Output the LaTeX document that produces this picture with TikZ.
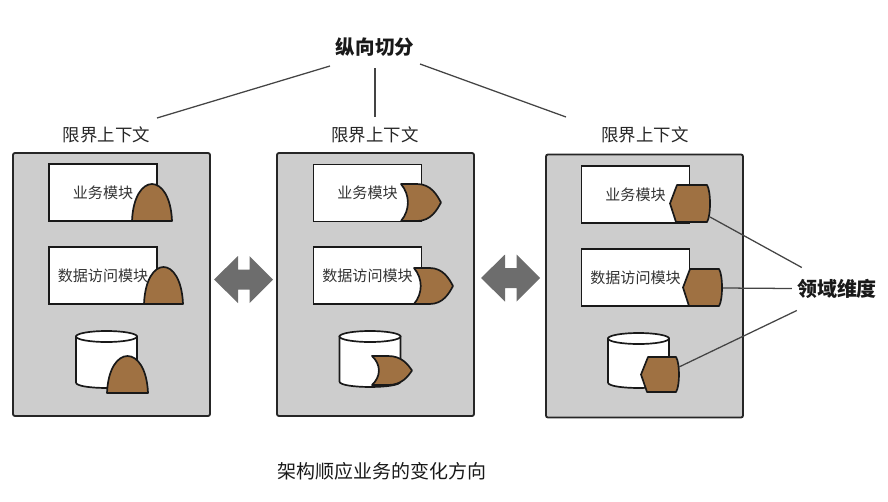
\documentclass[tikz,border=0pt]{standalone}
\usepackage{fontspec}
\setmainfont{Noto Sans CJK SC}
\usetikzlibrary{positioning, calc}

\definecolor{ctxgray}{HTML}{CDCDCD}
\definecolor{dombrown}{HTML}{9F7142}
\definecolor{swapgray}{HTML}{6D6D6D}
\definecolor{linkgray}{HTML}{444444}

\tikzset{
  ctxbox/.style={
    rectangle, rounded corners=1.5pt,
    draw=black!85, fill=ctxgray,
    line width=1.3pt, inner sep=0pt,
    minimum width=4.925cm, minimum height=6.575cm
  },
  modbox/.style={
    rectangle,
    draw=black!90, fill=white,
    line width=1.3pt, inner sep=0pt, text=black!80,
    minimum width=2.7cm, minimum height=1.425cm,
    font=\fontsize{10.7}{12}\selectfont
  },
  ctxlabel/.style={inner sep=0pt, text=black!85, font=\fontsize{12.4}{14}\selectfont},
  headline/.style={inner sep=0pt, text=black!90, font=\fontsize{13.9}{16}\selectfont\bfseries},
  dimlabel/.style={inner sep=0.125cm, text=black!90, font=\fontsize{14.2}{16}\selectfont\bfseries},
  bottomcap/.style={inner sep=0pt, text=black!90, font=\fontsize{13.5}{16}\selectfont},
  domshape/.style={fill=dombrown, draw=black!90, line width=1.2pt, line join=round},
  dbcylinder/.style={fill=white, draw=black!90, line width=1.2pt},
  swaparrow/.style={fill=swapgray},
  linkline/.style={draw=linkgray, line width=0.9pt}
}

% arch: left, right, top, bottom
\newcommand{\archdom}[4]{%
  \filldraw[domshape] (#1,#4) .. controls (#1+2,{#3-(#4-#3)/3}) and (#2-2,{#3-(#4-#3)/3}) .. (#2,#4) -- cycle;}
% gate: left, tip, top, bottom
\newcommand{\gatedom}[4]{%
  \filldraw[domshape] (#1,#3) -- ({#1+0.4*(#2-#1)},#3)
    .. controls ({#1+0.75*(#2-#1)},#3) and ({#2-0.1*(#2-#1)},{#3+0.3*(#4-#3)}) .. (#2,{(#3+#4)/2})
    .. controls ({#2-0.1*(#2-#1)},{#4-0.3*(#4-#3)}) and ({#1+0.75*(#2-#1)},#4) .. ({#1+0.4*(#2-#1)},#4)
    -- (#1,#4)
    .. controls ({#1+0.23*(#2-#1)},{#4-0.3*(#4-#3)}) and ({#1+0.23*(#2-#1)},{#3+0.3*(#4-#3)}) .. cycle;}
% hexagon: left, right, top, bottom
\newcommand{\hexdom}[4]{%
  \filldraw[domshape] (#1,{(#3+#4)/2}) -- (#1+7,#3) -- (#2-4,#3)
    .. controls (#2,#3+6) and (#2,#4-6) .. (#2-4,#4) -- (#1+6,#4) -- cycle;}
% database: centre x, top, bottom
\newcommand{\dbcyl}[3]{%
  \filldraw[dbcylinder] (#1-30.5,#2+5.5) -- (#1-30.5,#3-5.5)
    .. controls (#1-30.5,#3+1.8) and (#1+30.5,#3+1.8) .. (#1+30.5,#3-5.5) -- (#1+30.5,#2+5.5) -- cycle;
  \filldraw[dbcylinder] (#1,#2+5.5) ellipse[x radius=30.5, y radius=5.5];}
% double arrow: centre x, centre y
\newcommand{\dblarrow}[2]{%
  \fill[swaparrow] (#1-29.5,#2) -- (#1-5.5,#2-23.5) -- (#1-5.5,#2-10) -- (#1+6,#2-10)
    -- (#1+6,#2-23.5) -- (#1+29.5,#2) -- (#1+6,#2+23.5) -- (#1+6,#2+10)
    -- (#1-5.5,#2+10) -- (#1-5.5,#2+23.5) -- cycle;}

\begin{document}
\begin{tikzpicture}[x=0.025cm, y=-0.025cm]
\useasboundingbox (0,0) rectangle (888,501);

% ==============================================================================
% Vertical split
% ==============================================================================
\node[headline] (cut) at (375,47) {纵向切分};

\node[ctxlabel] (lbl1) at (106.5,135) {限界上下文};
\node[ctxlabel] (lbl2) at (375,135) {限界上下文};
\node[ctxlabel] (lbl3) at (645,135) {限界上下文};

\draw[linkline] ($(cut)+(-45,19)$) -- ($(lbl1)+(50.5,-17)$);
\draw[linkline] ($(cut)+(0,21)$) -- ($(lbl2)+(0,-18)$);
\draw[linkline] ($(cut)+(45,17)$) -- ($(lbl3)+(-79,-18)$);

% ==============================================================================
% Bounded contexts
% ==============================================================================
\node[ctxbox] (ctx1) at (111.5,284.5) {};
\node[ctxbox] (ctx2) at (375.5,284.5) {};
\node[ctxbox] (ctx3) at (644.5,286) {};

\node[modbox] (biz1) at (103,192.5) {业务模块};
\node[modbox] (dat1) at (103,275.5) {数据访问模块};
\dbcyl{106.5}{331}{388}

\node[modbox] (biz2) at (367.5,193) {业务模块};
\node[modbox] (dat2) at (367.5,275.5) {数据访问模块};
\dbcyl{370}{331}{387}

\node[modbox] (biz3) at (635.5,194.5) {业务模块};
\node[modbox] (dat3) at (635.5,277.5) {数据访问模块};
\dbcyl{638.5}{333}{388}

% ==============================================================================
% Domain pieces
% ==============================================================================
\archdom{132}{172}{184}{221}
\archdom{144}{183}{267}{304}
\archdom{107}{148}{356}{393}

\gatedom{401}{441}{184}{221}
\gatedom{414}{453}{268}{304}
\gatedom{372}{412}{356}{385}

\hexdom{670}{711}{185}{222}
\hexdom{683}{723}{269}{306}
\hexdom{641}{680}{357}{392}

\coordinate (hx1) at (710,217);
\coordinate (hx2) at (723,288);
\coordinate (hx3) at (679,367);

\node[dimlabel] (dim) at (837,288.5) {领域维度};

\draw[linkline] (hx1) -- ($(dim.west)+(10,-21)$);
\draw[linkline] (hx2) -- (dim.west);
\draw[linkline] (hx3) -- ($(dim.west)+(5,22)$);

% ==============================================================================
% Swaps and caption
% ==============================================================================
\dblarrow{243.5}{279.5}
\dblarrow{510.5}{278}

\node[bottomcap] (cap) at (382,471) {架构顺应业务的变化方向};

\end{tikzpicture}
\end{document}
